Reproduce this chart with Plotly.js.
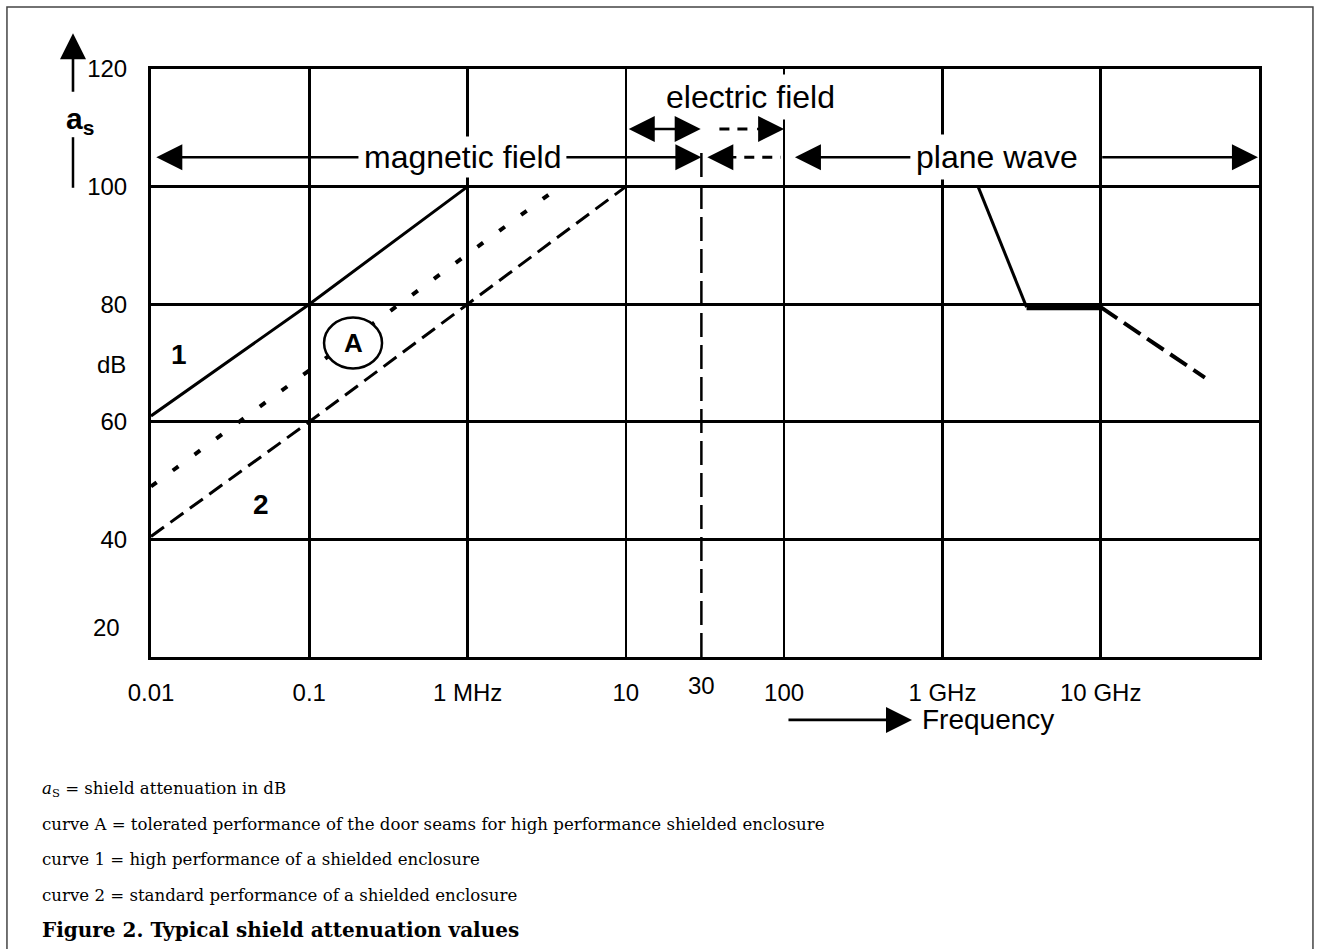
<!DOCTYPE html>
<html><head><meta charset="utf-8">
<script src="https://cdn.plot.ly/plotly-3.0.1.min.js"></script>
<style>html,body{margin:0;padding:0;background:#fff;}#chart{width:1318px;height:949px;}</style>
</head><body><div id="chart"></div>
<script>
// Frequency in MHz, shield attenuation in dB
const curve1Freq = [0.01, 0.1, 1];
const curve1Att  = [61, 80, 100];
const curveAFreq = [0.01, 0.1, 1, 3.6];
const curveAAtt  = [49, 68.7, 88.4, 99.5];
const curve2Freq = [0.01, 0.1, 1, 10];
const curve2Att  = [40.5, 60, 80, 100];
const planeSlopeFreq = [1680, 3400];
const planeSlopeAtt  = [100, 79.5];
const planeFlatFreq  = [3400, 10000];
const planeFlatAtt   = [79.5, 79.5];
const planeDropFreq  = [10000, 45500];
const planeDropAtt   = [79.5, 67.5];

const xTickVals = [0.01, 0.1, 1, 10, 100, 1000, 10000, 100000];
const xTickText = ['0.01', '0.1', '1 MHz', '10', '100', '1 GHz', '10 GHz', ''];
const yTickVals = [40, 60, 80, 100, 120];
const yTickText = ['40', '60', '80', '100', '120'];
const fieldBoundary = 30;      // MHz, dashed boundary line
const legendLines = [
  '<i>a</i><sub>S</sub> = shield attenuation in dB',
  'curve A = tolerated performance of the door seams for high performance shielded enclosure',
  'curve 1 = high performance of a shielded enclosure',
  'curve 2 = standard performance of a shielded enclosure'
];
const captionText = 'Figure 2. Typical shield attenuation values';

const sans = 'Liberation Sans, Arial, Helvetica, sans-serif';
const serif = 'DejaVu Serif, serif';
const L = Math.log10;
const K = '#000';

const traces = [
  {x: curve1Freq, y: curve1Att, mode: 'lines', line: {color: K, width: 3}},
  {x: curveAFreq, y: curveAAtt, mode: 'lines', line: {color: K, width: 4, dash: '7px,20px'}},
  {x: curve2Freq, y: curve2Att, mode: 'lines', line: {color: K, width: 3, dash: '16px,8px'}},
  {x: planeSlopeFreq, y: planeSlopeAtt, mode: 'lines', line: {color: K, width: 3}},
  {x: planeFlatFreq, y: planeFlatAtt, mode: 'lines', line: {color: K, width: 6}},
  {x: planeDropFreq, y: planeDropAtt, mode: 'lines', line: {color: K, width: 4, dash: '20px,8px'}}
].map(t => Object.assign({hoverinfo: 'skip', showlegend: false, type: 'scatter'}, t));

function label(x, y, text, size, extra) {
  return Object.assign({x: x, y: y, xref: 'x', yref: 'y', text: text, showarrow: false,
    xanchor: 'center', yanchor: 'middle', font: {family: sans, size: size, color: K}}, extra || {});
}
const HEAD = {arrowhead: 2, arrowsize: 2.0, arrowwidth: 2.6, arrowcolor: K, standoff: 0};
function arrow(tail, tip, y, extra) {
  return Object.assign({x: L(tip), y: y, ax: L(tail), ay: y, xref: 'x', yref: 'y', axref: 'x', ayref: 'y',
    text: '', showarrow: true, startstandoff: 0}, HEAD, extra || {});
}
const rowMag = 105.0, rowElec = 109.8;
const aX = 0.189, aY = 73.4;   // ellipse around the "A" label on curve A

const annotations = [
  label(L(0.93), rowMag, 'magnetic field', 32, {bgcolor: '#fff', borderpad: 2}),
  label(L(61.7), 115.3, 'electric field', 32, {bgcolor: '#fff', borderpad: 4}),
  label(L(2223), rowMag, 'plane wave', 32, {bgcolor: '#fff', borderpad: 4}),
  arrow(0.209, 0.0108, rowMag),
  arrow(4.12, fieldBoundary, rowMag),
  arrow(10.2, fieldBoundary * 0.99, rowElec, {arrowside: 'end+start', startarrowhead: 2, startarrowsize: 2.0}),
  arrow(66, 100, rowElec),
  arrow(51, 32.7, rowMag),
  arrow(641, 117, rowMag),
  arrow(10000, 98500, rowMag),
  label(L(0.0150), 71.4, '<b>1</b>', 28),
  label(L(0.0495), 45.9, '<b>2</b>', 28),
  label(L(aX), aY, '<b>A</b>', 26),
  label(L(fieldBoundary), 0, '30', 24, {yref: 'paper', y: -0.049}),
  label(-0.036, 69.7, 'dB', 24, {xref: 'paper'}),
  label(-0.040, 25.1, '20', 24, {xref: 'paper'}),
  label(-0.064, 0.913, '<b>a<sub>s</sub></b>', 30, {xref: 'paper', yref: 'paper'}),
  Object.assign({x: -0.0704, y: 1.061, xref: 'paper', yref: 'paper', ax: 0, ay: 60, text: '', showarrow: true}, HEAD),
  Object.assign({x: 0.6868, y: -0.107, xref: 'paper', yref: 'paper', ax: -125, ay: 0, text: '', showarrow: true}, HEAD),
  {x: 0.694, y: -0.107, xref: 'paper', yref: 'paper', xanchor: 'left', yanchor: 'middle', text: 'Frequency',
   showarrow: false, font: {family: sans, size: 28, color: K}}
];
const lineY = [-0.2245, -0.2857, -0.3452, -0.4048];
legendLines.forEach((t, i) => annotations.push({x: -0.1002, y: lineY[i], xref: 'paper', yref: 'paper',
  xanchor: 'left', yanchor: 'middle', text: t, showarrow: false, font: {family: serif, size: 16.6, color: K}}));
annotations.push({x: -0.1002, y: -0.4643, xref: 'paper', yref: 'paper', xanchor: 'left', yanchor: 'middle',
  text: '<b>' + captionText + '</b>', showarrow: false, font: {family: serif, size: 20, color: K}});

const decW = 29 / 158.3, dbH = 25.5 / 5.88;   // ellipse half-size (decades, dB)
const shapes = [
  {type: 'rect', xref: 'paper', yref: 'paper', x0: -0.1300, x1: 1.0487, y0: -0.6, y1: 1.1054,
   line: {color: '#444', width: 1.5}, layer: 'below'},
  {type: 'line', xref: 'x', yref: 'y', x0: fieldBoundary, x1: fieldBoundary, y0: 20, y1: 106.2,
   line: {color: K, width: 2.5, dash: '24px,8px'}},
  {type: 'line', xref: 'x', yref: 'y', x0: 39, x1: 63, y0: rowElec, y1: rowElec,
   line: {color: K, width: 3, dash: '10px,8px'}},
  {type: 'line', xref: 'x', yref: 'y', x0: 56, x1: 95, y0: rowMag, y1: rowMag,
   line: {color: K, width: 3, dash: '10px,8px'}},
  {type: 'line', xref: 'paper', yref: 'paper', x0: -0.0704, x1: -0.0704, y0: 0.884, y1: 0.798,
   line: {color: K, width: 2.5}},
  {type: 'circle', xref: 'x', yref: 'y',
   x0: Math.pow(10, L(aX) - decW), x1: Math.pow(10, L(aX) + decW), y0: aY - dbH, y1: aY + dbH,
   fillcolor: '#fff', line: {color: K, width: 2.5}}
];

const layout = {
  width: 1318, height: 949,
  margin: {l: 151, r: 59, t: 69, b: 292, pad: 0},
  paper_bgcolor: '#fff', plot_bgcolor: '#fff', showlegend: false,
  font: {family: sans, color: K},
  xaxis: {type: 'log', range: [-2, 5], tickmode: 'array', tickvals: xTickVals, ticktext: xTickText,
    showgrid: true, gridcolor: K, gridwidth: 2.5, zeroline: false, showline: true, mirror: true,
    linecolor: K, linewidth: 3, ticks: '', tickfont: {family: sans, size: 24, color: K},
    ticklabelstandoff: 12, fixedrange: true},
  yaxis: {range: [20, 120], tickmode: 'array', tickvals: yTickVals, ticktext: yTickText,
    showgrid: true, gridcolor: K, gridwidth: 3, zeroline: false, showline: true, mirror: true,
    linecolor: K, linewidth: 3, ticks: '', tickfont: {family: sans, size: 24, color: K},
    ticklabelstandoff: 16, fixedrange: true},
  annotations: annotations,
  shapes: shapes
};
Plotly.newPlot('chart', traces, layout, {displayModeBar: false, staticPlot: true});
</script></body></html>
